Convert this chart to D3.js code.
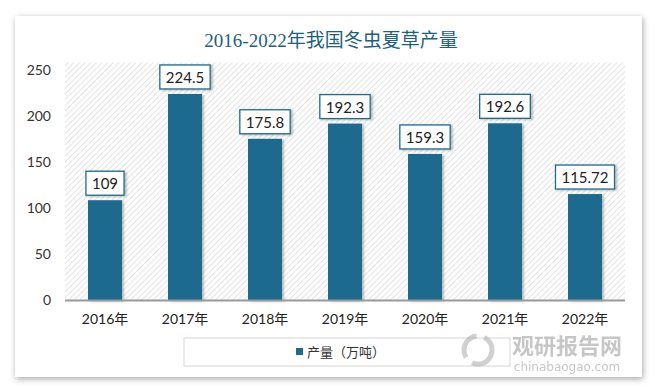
<!DOCTYPE html>
<html><head><meta charset="utf-8">
<script src="https://cdn.jsdelivr.net/npm/d3@7"></script>
<style>html,body{margin:0;padding:0;background:#fff;}svg{display:block;}</style>
</head><body>
<script>
const title = "2016-2022年我国冬虫夏草产量";
const categories = ["2016年","2017年","2018年","2019年","2020年","2021年","2022年"];
const values = [109, 224.5, 175.8, 192.3, 159.3, 192.6, 115.72];
const valueLabels = ["109","224.5","175.8","192.3","159.3","192.6","115.72"];
const yTicks = [0, 50, 100, 150, 200, 250];
const seriesName = "产量（万吨）";

const W = 660, H = 392;
const svg = d3.select("body").append("svg").attr("width", W).attr("height", H);
const defs = svg.append("defs");
const sh = defs.append("filter").attr("id","cardShadow").attr("x","-5%").attr("y","-5%").attr("width","110%").attr("height","115%");
sh.append("feDropShadow").attr("dx",1).attr("dy",2).attr("stdDeviation",3).attr("flood-color","#000").attr("flood-opacity",0.35);
const bs = defs.append("filter").attr("id","barShadow").attr("x","-20%").attr("y","-20%").attr("width","150%").attr("height","140%");
bs.append("feDropShadow").attr("dx",2).attr("dy",1).attr("stdDeviation",1.2).attr("flood-color","#000").attr("flood-opacity",0.25);
const pat = defs.append("pattern").attr("id","hatch").attr("patternUnits","userSpaceOnUse").attr("width",4).attr("height",4).attr("patternTransform","rotate(45)");
pat.append("rect").attr("width",4).attr("height",4).attr("fill","#fff");
pat.append("line").attr("x1",0).attr("y1",0).attr("x2",0).attr("y2",4).attr("stroke","#d6d6d6").attr("stroke-width",1.4);

// card
svg.append("rect").attr("x",15).attr("y",16).attr("width",627).attr("height",361).attr("fill","#fff").attr("filter","url(#cardShadow)");

const x = d3.scaleBand().domain(categories).range([65, 625]).paddingInner(0.575).paddingOuter(0.2875);
const y = d3.scaleLinear().domain([0, 250]).range([300.5, 70.5]);

// plot background hatch
svg.append("rect").attr("x",65).attr("y",y(250)-8).attr("width",560).attr("height",y(0)-y(250)+8).attr("fill","url(#hatch)");

// title
svg.append("text").attr("x",331).attr("y",47).attr("text-anchor","middle")
  .attr("font-family","'Liberation Serif','DejaVu Serif','Noto Sans CJK SC',serif")
  .attr("font-size",19).attr("fill","#1d5f7e").text(title);

// y axis
const yAxis = d3.axisLeft(y).tickValues(yTicks).tickSize(0).tickPadding(14);
const gy = svg.append("g").attr("transform","translate(65,0)").call(yAxis);
gy.select(".domain").remove();
gy.selectAll("text").attr("font-family","Lato,'Open Sans',sans-serif").attr("font-size",14).attr("fill","#333");

// bars
svg.append("g").selectAll("rect").data(values).join("rect")
  .attr("x",(d,i)=>x(categories[i])).attr("y",d=>y(d))
  .attr("width",x.bandwidth()).attr("height",d=>y(0)-y(d))
  .attr("fill","#1d6a8d").attr("filter","url(#barShadow)");

// x axis
const xAxis = d3.axisBottom(x).tickSize(0).tickPadding(14);
const gx = svg.append("g").attr("transform",`translate(0,${y(0)})`).call(xAxis);
gx.select(".domain").attr("stroke","#999").attr("stroke-width",2).attr("d","M65,0H625");
gx.selectAll("text").attr("font-family","Lato,'Noto Sans CJK SC',sans-serif").attr("font-size",14).attr("fill","#222");

// data labels
const lg = svg.append("g");
values.forEach((v,i)=>{
  const cx = x(categories[i]) + x.bandwidth()/2;
  const t = lg.append("text").attr("x",cx).attr("y",y(v)-11).attr("text-anchor","middle")
    .attr("font-family","Lato,'Open Sans',sans-serif").attr("font-size",15).attr("fill","#222").text(valueLabels[i]);
  const bb = t.node().getBBox();
  const bw = bb.width + 12;
  lg.insert("rect", () => t.node()).attr("x",cx-bw/2).attr("y",y(v)-29).attr("width",bw).attr("height",24)
    .attr("fill","#fff").attr("stroke","#1d6a8d").attr("stroke-width",1.3).attr("filter","url(#barShadow)");
});

// legend
svg.append("rect").attr("x",184).attr("y",338).attr("width",326).attr("height",28).attr("fill","#fff").attr("stroke","#d6d6d6");
svg.append("rect").attr("x",296).attr("y",348).attr("width",7).attr("height",7).attr("fill","#1d6a8d");
svg.append("text").attr("x",307).attr("y",357).attr("font-family","'Noto Sans CJK SC',sans-serif").attr("font-size",13).attr("fill","#333").text(seriesName);

// watermark
const wm = svg.append("g").attr("opacity",0.55);
wm.append("circle").attr("cx",478).attr("cy",350).attr("r",14).attr("fill","none").attr("stroke","#aaa").attr("stroke-width",5).attr("stroke-dasharray","28 8");
wm.append("text").attr("x",567).attr("y",354).attr("text-anchor","middle").attr("font-family","'Noto Sans CJK SC',sans-serif").attr("font-weight","bold").attr("font-size",22).attr("fill","#999").text("观研报告网");
wm.append("text").attr("x",567).attr("y",371).attr("text-anchor","middle").attr("font-family","'DejaVu Sans',sans-serif").attr("font-size",12).attr("fill","#999").text("chinabaogao.com");
</script>
</body></html>
